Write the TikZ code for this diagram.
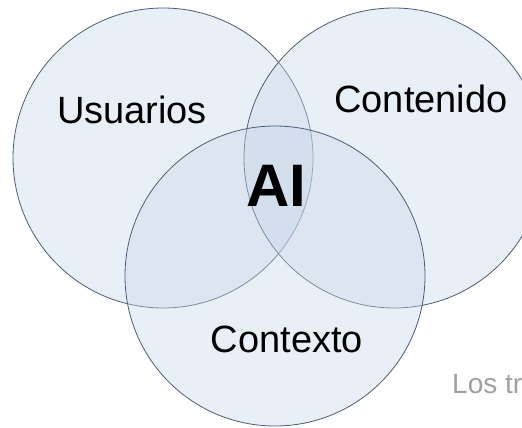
\documentclass[tikz,border=0pt]{standalone}
\usepackage{fontspec}
\setmainfont{Liberation Sans}
\definecolor{ringfill}{RGB}{200,214,232}
\definecolor{ringline}{RGB}{78,92,118}
\definecolor{notegray}{RGB}{160,160,160}
\tikzset{
  ring/.style={draw=ringline,line width=0.8pt,fill=ringfill,fill opacity=0.4},
  label/.style={anchor=base,text=black,font=\fontsize{38}{38}\selectfont}
}
\begin{document}
\begin{tikzpicture}[x=1pt,y=-1pt]
\useasboundingbox (0,0) rectangle (522,428);
\clip (0,0) rectangle (522,428);
\def\r{150pt}
% the three sets
\draw[ring] (163,158) circle[radius=\r];
\draw[ring] (394,158) circle[radius=\r];
\draw[ring] (275,276) circle[radius=\r];
% names
\node[label] (usuarios) at (132,123) {Usuarios};
\node[label] (contenido) at (421,112) {Contenido};
\node[label] (contexto) at (287,352) {Contexto};
\node[anchor=base,font=\fontsize{60}{60}\selectfont\bfseries] (ai) at (276,206) {AI};
\node[anchor=base west,inner sep=0pt,text=notegray,font=\fontsize{28}{28}\selectfont] (nota) at (452,393) {Los tr};
\end{tikzpicture}
\end{document}
